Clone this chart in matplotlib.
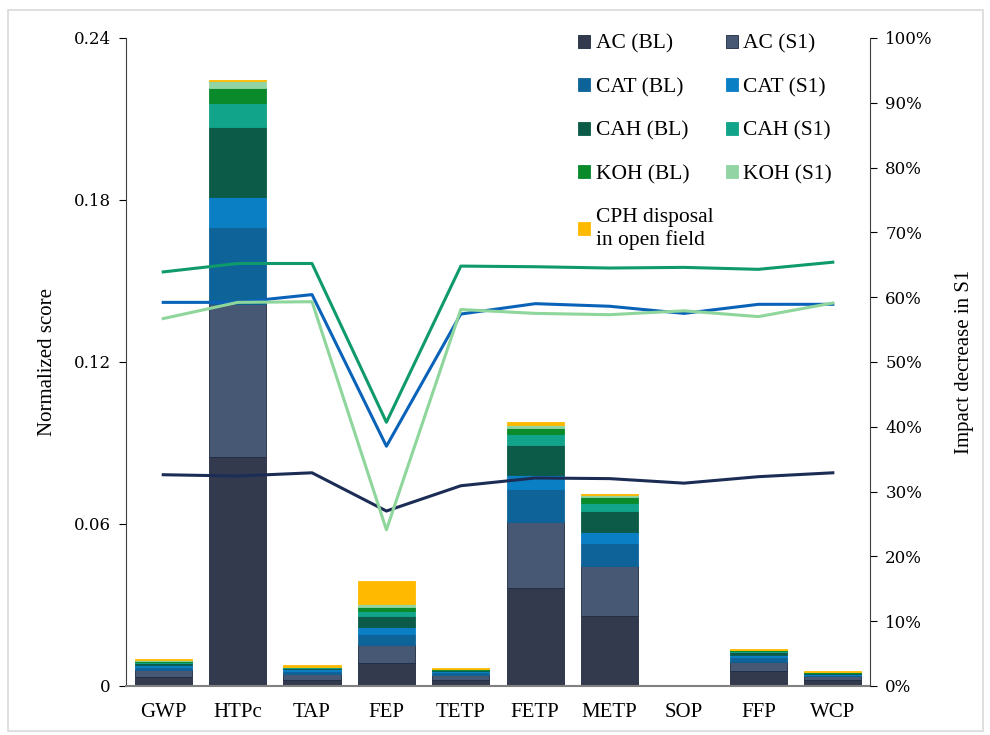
import numpy as np
import matplotlib
matplotlib.use("Agg")
import matplotlib.pyplot as plt
from matplotlib.patches import Rectangle
from matplotlib.ticker import FuncFormatter

plt.rcParams['font.family'] = ['Liberation Serif', 'DejaVu Serif']

categories = ['GWP', 'HTPc', 'TAP', 'FEP', 'TETP', 'FETP', 'METP', 'SOP', 'FFP', 'WCP']

# stacked contributions (normalized score)
ac_bl  = [0.0035, 0.0848, 0.0022, 0.0084, 0.0022, 0.0362, 0.0261, 0.0, 0.0055, 0.0022]
ac_s1  = [0.0025, 0.0567, 0.0023, 0.0068, 0.0018, 0.0247, 0.0185, 0.0, 0.0035, 0.0014]
cat_bl = [0.0012, 0.0285, 0.0011, 0.0041, 0.0010, 0.0120, 0.0085, 0.0, 0.0017, 0.0006]
cat_s1 = [0.0006, 0.0112, 0.0006, 0.0027, 0.0005, 0.0052, 0.0039, 0.0, 0.0009, 0.0003]
cah_bl = [0.0007, 0.0259, 0.0005, 0.0039, 0.0004, 0.0110, 0.0078, 0.0, 0.0010, 0.0003]
cah_s1 = [0.0005, 0.0090, 0.0002, 0.0020, 0.0002, 0.0041, 0.0030, 0.0, 0.0004, 0.0001]
koh_bl = [0.0003, 0.0055, 0.0002, 0.0015, 0.0001, 0.0022, 0.0023, 0.0003, 0.0003, 0.0001]
koh_s1 = [0.0002, 0.0023, 0.0001, 0.0010, 0.0001, 0.0013, 0.0006, 0.0, 0.0001, 0.0001]
cph    = [0.0004, 0.0006, 0.0004, 0.0086, 0.0004, 0.0011, 0.0004, 0.0, 0.0003, 0.0003]

# impact decrease in S1 (%)
dec_ac  = [32.6, 32.4, 32.9, 27.0, 30.9, 32.1, 32.0, 31.3, 32.3, 32.9]
dec_cat = [59.2, 59.2, 60.4, 37.0, 57.4, 59.0, 58.6, 57.5, 58.9, 58.9]
dec_cah = [63.9, 65.2, 65.2, 40.7, 64.8, 64.7, 64.5, 64.6, 64.3, 65.4]
dec_koh = [56.7, 59.2, 59.3, 24.1, 58.1, 57.5, 57.3, 57.9, 57.0, 59.1]

series = [
    ('AC (BL)', ac_bl, '#333a4d'),
    ('AC (S1)', ac_s1, '#465873'),
    ('CAT (BL)', cat_bl, '#0e6399'),
    ('CAT (S1)', cat_s1, '#0b7fc4'),
    ('CAH (BL)', cah_bl, '#0b5b48'),
    ('CAH (S1)', cah_s1, '#12a48b'),
    ('KOH (BL)', koh_bl, '#0a8a2a'),
    ('KOH (S1)', koh_s1, '#92d4a3'),
    ('CPH disposal\nin open field', cph, '#ffba00'),
]

fig = plt.figure(figsize=(9.9, 7.35), dpi=100)
fig.patches.append(Rectangle((0.008, 0.005), 0.985, 0.982, transform=fig.transFigure,
                             fill=False, edgecolor='#d9d9d9', linewidth=1.2))
ax = fig.add_axes([0.1273, 0.0667, 0.7515, 0.8816])
x = np.arange(len(categories))
bottom = np.zeros(len(categories))
handles = {}
for name, vals, col in series:
    ec = '#1e2940' if name.startswith('AC') else col
    b = ax.bar(x, vals, 0.77, bottom=bottom, color=col, edgecolor=ec, linewidth=0.6, label=name)
    handles[name] = b
    bottom += np.array(vals)

ax.set_xlim(-0.5, len(categories) - 0.5)
ax.set_ylim(0, 0.24)
ax.set_yticks([0, 0.06, 0.12, 0.18, 0.24])
ax.yaxis.set_major_formatter(FuncFormatter(lambda v, p: '0' if v == 0 else '%.2f' % v))
ax.set_xticks(x)
ax.set_xticklabels(categories)
ax.tick_params(axis='x', length=0, labelsize=15, pad=12)
ax.tick_params(axis='y', labelsize=12, length=5, direction='out', pad=6)
for t in ax.get_yticklabels():
    t.set_family('DejaVu Serif')
ax.spines['top'].set_visible(False)
ax.spines['right'].set_visible(False)
ax.spines['left'].set_color('#404040')
ax.spines['bottom'].set_color('#808080')
ax.spines['bottom'].set_linewidth(1.5)
ax.set_ylabel('Normalized score', fontsize=15, labelpad=12)

ax2 = ax.twinx()
ax2.plot(x, dec_ac, color='#1c2d55', lw=2.2)
ax2.plot(x, dec_cat, color='#0a63b8', lw=2.2)
ax2.plot(x, dec_cah, color='#0f9a6c', lw=2.2)
ax2.plot(x, dec_koh, color='#8ed69b', lw=2.2)
ax2.set_ylim(0, 100)
ax2.set_yticks(np.arange(0, 101, 10))
ax2.yaxis.set_major_formatter(FuncFormatter(lambda v, p: '%d%%' % v))
ax2.tick_params(axis='y', labelsize=12, length=5, direction='out', pad=6)
for t in ax2.get_yticklabels():
    t.set_family('DejaVu Serif')
ax2.spines['top'].set_visible(False)
ax2.spines['left'].set_visible(False)
ax2.spines['bottom'].set_visible(False)
ax2.spines['right'].set_color('#404040')
ax2.set_ylabel('Impact decrease in S1', fontsize=15, labelpad=16)

order = ['AC (BL)', 'CAT (BL)', 'CAH (BL)', 'KOH (BL)', 'CPH disposal\nin open field',
         'AC (S1)', 'CAT (S1)', 'CAH (S1)', 'KOH (S1)']
ax2.legend(handles=[handles[k] for k in order], labels=order, loc='upper right',
           bbox_to_anchor=(0.975, 1.035), ncol=2,
           frameon=False, fontsize=15.5, handlelength=0.55, handleheight=0.55,
           handletextpad=0.25, labelspacing=1.12, columnspacing=0.6)

fig.savefig('out.png', dpi=100)
